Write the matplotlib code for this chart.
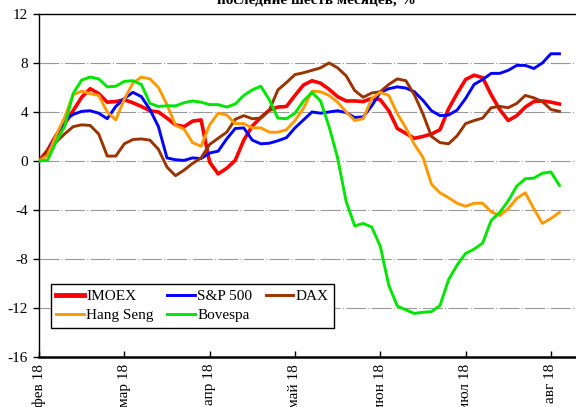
import matplotlib
matplotlib.use("Agg")
import matplotlib.pyplot as plt
import numpy as np

plt.rcParams['font.family'] = ['Liberation Serif', 'DejaVu Serif']
plt.rcParams['font.size'] = 11
plt.rcParams['axes.unicode_minus'] = False

# x positions in months from 1 Feb 2018 (one point roughly every two trading days)
months = np.arange(62) / 10.0
month_ticks = [0, 1, 2, 3, 4, 5, 6]
month_labels = ['фев 18', 'мар 18', 'апр 18', 'май 18', 'июн 18', 'июл 18', 'авг 18']

imoex = [0, 0.87, 2.1, 3.0, 4.1, 5.2, 5.9, 5.5, 4.8, 4.85,
         5.0, 4.75, 4.45, 4.1, 4.0, 3.5, 2.95, 2.8, 3.25, 3.35,
         -0.1, -1.05, -0.6, 0.05, 1.7, 2.85, 3.55, 4.15, 4.4, 4.45,
         5.35, 6.2, 6.55, 6.35, 5.85, 5.25, 4.9, 4.9, 4.85, 5.1,
         5.0, 4.1, 2.65, 2.25, 1.85, 2.0, 2.2, 2.55, 4.25, 5.5,
         6.65, 7.0, 6.8, 5.4, 4.2, 3.3, 3.7, 4.4, 4.85, 4.9,
         4.8, 4.65]
sp500 = [0, 0.75, 2.05, 3.3, 3.8, 4.05, 4.1, 3.9, 3.45, 4.45,
         5.1, 5.6, 5.25, 4.2, 2.8, 0.25, 0.1, 0.05, 0.25, 0.2,
         0.65, 0.8, 1.8, 2.65, 2.7, 1.7, 1.4, 1.45, 1.65, 1.9,
         2.7, 3.35, 4.0, 3.9, 4.0, 4.1, 3.95, 3.55, 3.6, 4.5,
         5.6, 5.9, 6.05, 5.95, 5.65, 4.95, 4.1, 3.7, 3.75, 4.15,
         5.1, 6.25, 6.65, 7.15, 7.15, 7.4, 7.8, 7.8, 7.55, 8.0,
         8.75, 8.75]
dax = [0, 0.85, 1.55, 2.2, 2.8, 2.95, 2.9, 2.2, 0.4, 0.4,
       1.4, 1.75, 1.8, 1.7, 0.95, -0.5, -1.2, -0.75, -0.2, 0.25,
       1.35, 1.85, 2.35, 3.4, 3.7, 3.45, 3.5, 4.15, 5.8, 6.4,
       7.05, 7.2, 7.4, 7.6, 8.0, 7.6, 6.95, 5.75, 5.2, 5.55,
       5.65, 6.25, 6.7, 6.55, 5.4, 3.85, 2.0, 1.5, 1.4, 2.05,
       3.05, 3.3, 3.5, 4.35, 4.45, 4.35, 4.7, 5.35, 5.15, 4.85,
       4.2, 4.05]
hang_seng = [0, 0.45, 2.1, 3.55, 5.4, 5.7, 5.5, 5.35, 4.0, 3.35,
             5.05, 6.35, 6.85, 6.7, 6.0, 4.6, 2.9, 2.6, 1.5, 1.2,
             2.95, 3.9, 3.75, 3.05, 3.05, 2.7, 2.7, 2.35, 2.35, 2.55,
             3.3, 4.3, 5.7, 5.65, 5.35, 4.8, 4.0, 3.3, 3.45, 5.1,
             5.6, 5.35, 3.85, 2.7, 1.35, 0.3, -1.9, -2.6, -3.0, -3.45,
             -3.7, -3.45, -3.45, -4.15, -4.45, -3.9, -3.05, -2.6, -3.9, -5.1,
             -4.7, -4.2]
bovespa = [0, 0.05, 1.55, 2.8, 5.5, 6.6, 6.85, 6.7, 6.05, 6.1,
           6.5, 6.55, 6.25, 4.7, 4.45, 4.5, 4.5, 4.75, 4.9, 4.8,
           4.6, 4.6, 4.4, 4.65, 5.35, 5.8, 6.1, 5.0, 3.5, 3.45,
           3.9, 4.9, 5.6, 4.9, 2.8, 0.25, -3.3, -5.3, -5.1, -5.4,
           -6.95, -10.15, -11.85, -12.15, -12.45, -12.35, -12.3, -11.8, -9.7, -8.5,
           -7.55, -7.2, -6.7, -4.85, -4.2, -3.25, -2.05, -1.45, -1.4, -1.0,
           -0.9, -2.0]

fig = plt.figure(figsize=(5.76, 4.07), dpi=100)
ax = fig.add_axes([0.0677, 0.1229, 0.948, 0.8428])

ax.plot(months, imoex, color='#FF0000', lw=2.6, label='IMOEX', zorder=3)
ax.plot(months, sp500, color='#0000FF', lw=2.1, label='S&P 500', zorder=3)
ax.plot(months, dax, color='#993300', lw=2.1, label='DAX', zorder=3)
ax.plot(months, hang_seng, color='#FF9900', lw=2.1, label='Hang Seng', zorder=3)
ax.plot(months, bovespa, color='#00E600', lw=2.1, label='Bovespa', zorder=3)

ax.set_xlim(0, 6.4)
ax.set_ylim(-16, 12)
ax.set_yticks(range(-16, 13, 4))
ax.set_xticks(month_ticks)
ax.set_xticklabels(month_labels, rotation=90)

# dash-dot grey grid, Excel style
for v in range(-12, 12, 4):
    ax.axhline(v, color='#999999', lw=0.8, dashes=(18, 2, 1, 2), zorder=1)

ax.tick_params(axis='x', direction='in', length=4, width=1, pad=5)
ax.tick_params(axis='y', direction='out', length=4, width=1, pad=4)
for side in ['left', 'top', 'right']:
    ax.spines[side].set_linewidth(1.0)
ax.spines['bottom'].set_linewidth(1.8)

# reorder so the legend fills row by row
h, l = ax.get_legend_handles_labels()
order = [0, 3, 1, 4, 2]
leg = ax.legend([h[i] for i in order], [l[i] for i in order], ncol=3,
                loc='lower left', bbox_to_anchor=(0.022, 0.085),
                borderaxespad=0, fancybox=False, edgecolor='black',
                framealpha=1, handlelength=1.8, handletextpad=0.15,
                columnspacing=0.9, borderpad=0.35, labelspacing=0.35)
leg.get_frame().set_linewidth(1.0)
leg.legend_handles[0].set_linewidth(3.5)

fig.text(0.549, 0.991, 'последние шесть месяцев, %', ha='center',
         va='baseline', fontsize=11, fontweight='bold')

fig.savefig('out.png', dpi=100)
